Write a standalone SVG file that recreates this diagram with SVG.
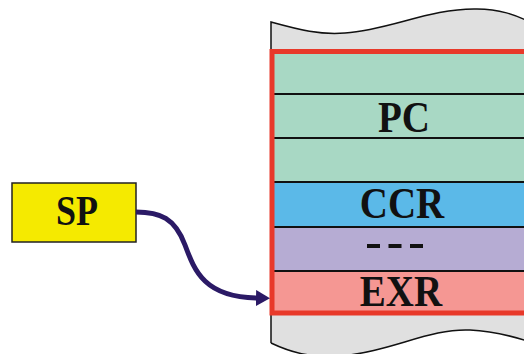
<svg xmlns="http://www.w3.org/2000/svg" width="524" height="354" viewBox="0 0 524 354">
<style>
.lbl{font-family:"Liberation Serif","Times New Roman",serif;font-weight:bold;font-size:39px;fill:#111;text-anchor:middle}
.div{stroke:#111;stroke-width:1.8}
</style>
<defs>
<marker id="ah" markerWidth="14" markerHeight="16" refX="1" refY="8" orient="auto" markerUnits="userSpaceOnUse">
<path d="M0,0 L14,8 L0,16 Z" fill="#2B1A66"/>
</marker>
</defs>
<rect width="524" height="354" fill="#fff"/>
<g id="paper">
<path d="M271,22 C300,30 320,35 345,33 C390,30 430,8 477,9 C500,9 515,15 530,22 L530,342 C515,337 495,331 470,330 C430,328 390,352 340,356 C310,358 290,352 271,343 Z" fill="#E0E0E0" stroke="none"/>
<path d="M271,343 L271,22 C300,30 320,35 345,33 C390,30 430,8 477,9 C500,9 515,15 530,22" fill="none" stroke="#111" stroke-width="1.5"/>
<path d="M271,343 C290,352 310,358 340,356 C390,352 430,328 470,330 C495,331 515,337 530,342" fill="none" stroke="#111" stroke-width="1.5"/>
</g>
<g id="stack">
<rect x="272" y="51.5" width="260" height="42.5" fill="#A8D8C4"/>
<rect x="272" y="94" width="260" height="44" fill="#A8D8C4"/>
<rect x="272" y="138" width="260" height="44" fill="#A8D8C4"/>
<rect x="272" y="182" width="260" height="45" fill="#5BB9E8"/>
<rect x="272" y="227" width="260" height="44" fill="#B6ACD3"/>
<rect x="272" y="271" width="260" height="42" fill="#F59793"/>
<line class="div" x1="272" y1="94" x2="530" y2="94"/>
<line class="div" x1="272" y1="138" x2="530" y2="138"/>
<line class="div" x1="272" y1="182" x2="530" y2="182"/>
<line class="div" x1="272" y1="227" x2="530" y2="227"/>
<line class="div" x1="272" y1="271" x2="530" y2="271"/>
<rect x="272" y="51.5" width="262" height="261.5" fill="none" stroke="#E8392A" stroke-width="5"/>
<text class="lbl" transform="translate(404,132) scale(1,1.15)">PC</text>
<text class="lbl" transform="translate(402,218) scale(1,1.15)">CCR</text>
<g fill="#111">
<rect x="367" y="244" width="13" height="4"/>
<rect x="388.5" y="244" width="13" height="4"/>
<rect x="410" y="244" width="13" height="4"/>
</g>
<text class="lbl" transform="translate(401,306) scale(1,1.15)">EXR</text>
</g>
<g id="sp">
<rect x="12" y="183" width="124" height="59" fill="#F5EA00" stroke="#222" stroke-width="1.5"/>
<text class="lbl" transform="translate(77,225) scale(1,1.17)" style="font-size:36px">SP</text>
</g>
<g id="connectors">
<path d="M136,212 C160,212 175,218 185,245 C195,272 205,297 257,298" fill="none" stroke="#2B1A66" stroke-width="5" marker-end="url(#ah)"/>
</g>
</svg>
